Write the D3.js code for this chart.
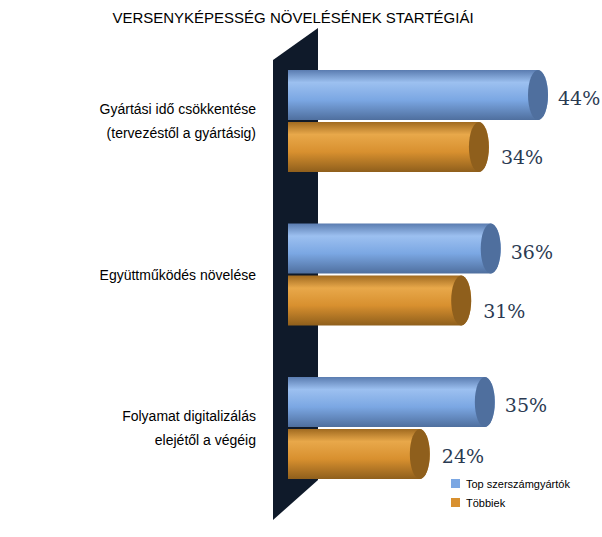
<!DOCTYPE html><html><head><meta charset="utf-8"><script src="https://cdn.jsdelivr.net/npm/d3@7"></script>
<style>body{margin:0;background:#fff}</style></head><body><svg id="c" width="602" height="537"></svg>
<script>
const categories=[["Gyártási idő csökkentése","(tervezéstől a gyártásig)"],["Együttműködés növelése"],["Folyamat digitalizálás","elejétől a végéig"]];
const seriesNames=["Top szerszámgyártók","Többiek"];
const topValues=[44,36,35];
const otherValues=[34,31,24];
const colors=[{main:"#7ba7e3",dark:"#4f6f9e",light:"#9cc0f0",edge:"#5a7cb0"},{main:"#d8902f",dark:"#8f5f1c",light:"#e8a84a",edge:"#a06a20"}];
const svg=d3.select("#c");
const defs=svg.append("defs");
colors.forEach((c,i)=>{const g=defs.append("linearGradient").attr("id","g"+i).attr("x1",0).attr("y1",0).attr("x2",0).attr("y2",1);
[[0,c.edge],[0.25,c.light],[0.6,c.main],[1,c.dark]].forEach(s=>g.append("stop").attr("offset",s[0]).attr("stop-color",s[1]));});
svg.append("text").attr("x",293).attr("y",23).attr("text-anchor","middle").attr("font-family","Liberation Sans,Arial").attr("font-size",15).text("VERSENYKÉPESSÉG NÖVELÉSÉNEK STARTÉGIÁI");
svg.append("path").attr("d","M273,60L318,28L318,480L273,520Z").attr("fill","#0f1a2a");
const x=d3.scaleLinear().domain([0,44]).range([288,548]);
const y=d3.scalePoint().domain(d3.range(3)).range([70,377]);
const bh=50,rx=10;
categories.forEach((cat,i)=>{
 [topValues[i],otherValues[i]].forEach((v,s)=>{
  const y0=y(i)+s*(bh+2),x1=x(v);
  svg.append("path").attr("d",`M${x(0)},${y0}H${x1-rx}A${rx},${bh/2} 0 0 1 ${x1-rx},${y0+bh}H${x(0)}Z`).attr("fill",`url(#g${s})`);
  svg.append("ellipse").attr("cx",x1-rx).attr("cy",y0+bh/2).attr("rx",rx).attr("ry",bh/2).attr("fill",colors[s].dark);
  const dy=s?(i===2?9:17):10;
  svg.append("text").attr("x",x1+(s?12:10)).attr("y",y0+bh/2+dy).attr("font-family","DejaVu Serif,serif").attr("font-size",19).attr("fill","#2b3a52").text(v+"%");
 });
 const cy=y(i)+bh+1,lh=24,n=cat.length;
 cat.forEach((l,k)=>svg.append("text").attr("x",256).attr("y",cy+(k-(n-1)/2)*lh+5).attr("text-anchor","end").attr("font-family","Liberation Sans,Arial").attr("font-size",14).text(l));
});
seriesNames.forEach((n,i)=>{const yy=479+i*19;
 svg.append("rect").attr("x",451).attr("y",yy).attr("width",9).attr("height",9).attr("fill",colors[i].main);
 svg.append("text").attr("x",466).attr("y",yy+9).attr("font-family","Liberation Sans,Arial").attr("font-size",11).text(n);});
</script></body></html>
